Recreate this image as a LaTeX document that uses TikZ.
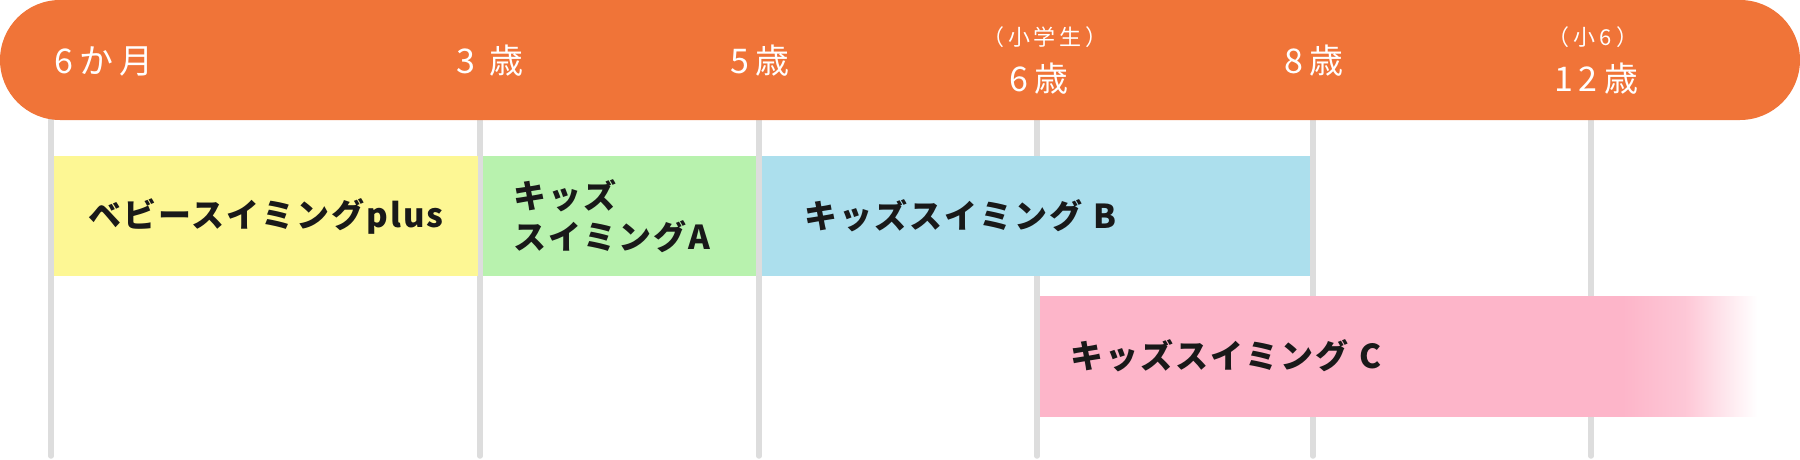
\documentclass[tikz,border=0pt]{standalone}
\usepackage{fontspec}
\newfontfamily\jpfont{Noto Sans CJK JP}[LetterSpace=18]
\newfontfamily\jpboxfont{Noto Sans CJK JP}[LetterSpace=6]
\definecolor{barorange}{HTML}{F07438}
\definecolor{tickgray}{HTML}{DDDDDD}
\definecolor{babyyellow}{HTML}{FDF794}
\definecolor{kidsgreen}{HTML}{B8F2AE}
\definecolor{kidsblue}{HTML}{ACDFED}
\definecolor{kidspink}{HTML}{FDB5C9}
\pgfdeclarehorizontalshading{pinkfade}{100bp}{color(0bp)=(kidspink); color(65.6bp)=(kidspink);
  color(70bp)=(kidspink!75!white); color(75bp)=(white); color(100bp)=(white)}
\tikzset{
  tick/.style={draw=tickgray, line width=5.5pt, line cap=round},
  agelabel/.style={text=white, inner sep=0pt, font=\jpfont\fontsize{34}{36}\selectfont},
  agenote/.style={text=white, inner sep=0pt, font=\jpfont\fontsize{22}{24}\selectfont},
  agebox/.style={anchor=north west, minimum height=120pt, inner ysep=0pt, text=black!90,
    font=\jpboxfont\bfseries\fontsize{33}{41}\selectfont}
}
\begin{document}
\begin{tikzpicture}[x=1pt, y=-1pt]
  \useasboundingbox (0,0) rectangle (1800,460);
  \foreach \x in {51,480,759,1037,1313,1591}
    \draw[tick] (\x,120) -- (\x,456);
  \fill[barorange, rounded corners=60pt] (0,0) rectangle (1800,120);

  \node[agelabel, anchor=west] (m6) at (54,61) {6か月};
  \node[agelabel] (a3) at (490,61) {3 歳};
  \node[agelabel] (a5) at (760,61) {5歳};
  \node[agenote] (n6) at (1045,37) {（小学生）};
  \node[agelabel] (a6) at (1039,79) {6歳};
  \node[agelabel] (a8) at (1314,61) {8歳};
  \node[agenote] (n12) at (1593,37) {（小6）};
  \node[agelabel] (a12) at (1596,79) {12歳};

  \node[agebox, fill=babyyellow, minimum width=424pt, inner xsep=0pt] (plus) at (54,156) {ベビースイミングplus};
  \node[agebox, fill=kidsgreen, text width=213pt, inner xsep=30pt, align=left] (kidsA) at (483,156) {キッズ\\スイミングA};
  \node[agebox, fill=kidsblue, text width=464pt, inner xsep=42pt, align=left] (kidsB) at (762,156) {キッズスイミング B};
  \node[agebox, shading=pinkfade, text width=657pt, inner xsep=30pt, align=left] (kidsC) at (1040,296) {キッズスイミング C};
\end{tikzpicture}
\end{document}
